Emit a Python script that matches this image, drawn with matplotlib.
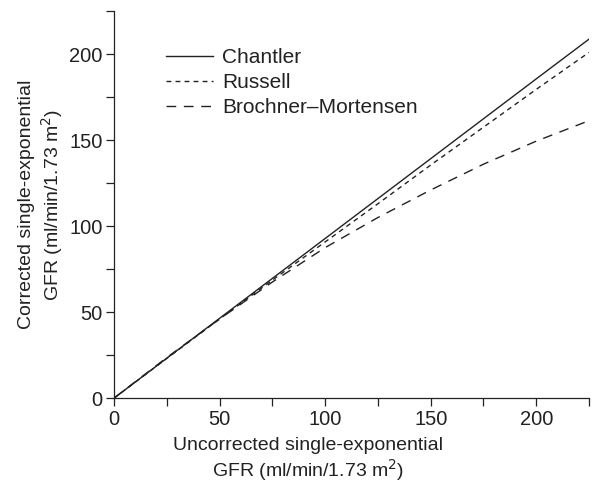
import matplotlib
matplotlib.use("Agg")
import matplotlib.pyplot as plt
from matplotlib.ticker import MultipleLocator

plt.rcParams['font.family'] = ['Liberation Sans', 'DejaVu Sans']

# GFR values
gfr_x = [0, 25, 50, 75, 100, 125, 150, 175, 200, 225]
chantler = [0, 23.2, 46.4, 69.6, 92.8, 116.0, 139.2, 162.4, 185.6, 208.7]
russell = [0, 23.1, 46.0, 68.6, 90.8, 113.0, 135.5, 157.5, 179.5, 201.0]
brochner = [0, 23.6, 46.0, 67.5, 87.5, 105.0, 121.0, 136.0, 149.4, 161.3]

fig = plt.figure(figsize=(5.92, 4.82), dpi=100)
ax = fig.add_axes([0.1926, 0.174, 0.8024, 0.803])

ax.plot(gfr_x, chantler, color='#222222', lw=1.0, ls='-', label='Chantler')
ax.plot(gfr_x, russell, color='#222222', lw=1.0, dashes=(3.5, 3), label='Russell')
ax.plot(gfr_x, brochner, color='#222222', lw=1.0, dashes=(7, 5.5), label='Brochner\u2013Mortensen')

ax.set_xlim(0, 225)
ax.set_ylim(0, 225)
ax.xaxis.set_major_locator(MultipleLocator(50))
ax.xaxis.set_minor_locator(MultipleLocator(25))
ax.yaxis.set_major_locator(MultipleLocator(50))
ax.yaxis.set_minor_locator(MultipleLocator(25))
ax.tick_params(which='both', direction='out', length=5.8, width=0.9, color='#222222',
               labelsize=14.5, labelcolor='#222222', pad=2.5)

for s in ['top', 'right']:
    ax.spines[s].set_visible(False)
for s in ['left', 'bottom']:
    ax.spines[s].set_linewidth(0.9)
    ax.spines[s].set_color('#222222')

ax.set_xlabel('Uncorrected single-exponential\nGFR (ml/min/1.73 m$^2$)',
              fontsize=14, color='#222222', linespacing=1.15)
ax.xaxis.set_label_coords(0.408, -0.1)
ax.set_ylabel('Corrected single-exponential\nGFR (ml/min/1.73 m$^2$)',
              fontsize=14, color='#222222', labelpad=3, linespacing=1.2)

leg = ax.legend(loc='upper left', bbox_to_anchor=(0.091, 0.925), frameon=False,
                fontsize=15, handlelength=2.3, handletextpad=0.4,
                labelspacing=0.28, borderaxespad=0)
for t in leg.get_texts():
    t.set_color('#222222')

fig.savefig('out.png', dpi=100)
